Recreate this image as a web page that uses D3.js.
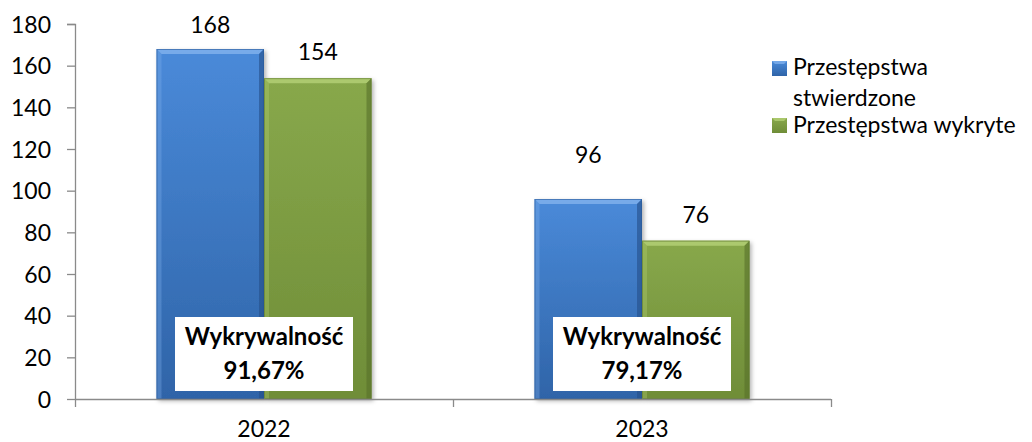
<!DOCTYPE html>
<html><head><meta charset="utf-8">
<script src="https://cdn.jsdelivr.net/npm/d3@7/dist/d3.min.js"></script>
<style>body{margin:0;background:#fff}svg{display:block}</style>
</head><body>
<script>
const categories = ["2022", "2023"];
const seriesNames = ["Przestępstwa stwierdzone", "Przestępstwa wykryte"];
const stwierdzone = [168, 96];
const wykryte = [154, 76];
const wykrywalnosc = ["91,67%", "79,17%"];
const yTicks = [0, 20, 40, 60, 80, 100, 120, 140, 160, 180];

const W = 1032, H = 442;
const svg = d3.select("body").append("svg").attr("width", W).attr("height", H);
const font = "Lato, 'Open Sans', sans-serif";
const fs = 23;
const axisCol = "#8a8a8a";

const x0 = d3.scaleBand().domain(categories).range([75, 831]).paddingInner(0).paddingOuter(0);
const y = d3.scaleLinear().domain([0, 180]).range([399, 24]);
const barW = 107.5;

const defs = svg.append("defs");
const pal = [
  {id: "gB", top: "#4a8ad9", bot: "#2f64a8", light: "#7fb0ec", dark: "#244f88", edge: "#2a5a99"},
  {id: "gG", top: "#88a84b", bot: "#6f8d38", light: "#b3cf74", dark: "#566f2a", edge: "#5f7a30"}
];
pal.forEach(p => {
  const g = defs.append("linearGradient").attr("id", p.id).attr("x1", 0).attr("x2", 0).attr("y1", 0).attr("y2", 1);
  g.append("stop").attr("offset", "0%").attr("stop-color", p.top);
  g.append("stop").attr("offset", "100%").attr("stop-color", p.bot);
});
const f = defs.append("filter").attr("id", "sh").attr("x", "-10%").attr("y", "-10%").attr("width", "130%").attr("height", "130%");
f.append("feDropShadow").attr("dx", 2).attr("dy", 2).attr("stdDeviation", 2).attr("flood-color", "#000").attr("flood-opacity", 0.3);

// axes
const yAxis = d3.axisLeft(y).tickValues(yTicks).tickSize(8).tickPadding(16);
const gy = svg.append("g").attr("transform", "translate(75,0)").call(yAxis);
gy.selectAll("path,line").attr("stroke", axisCol).attr("stroke-width", 1.3);
gy.select(".domain").attr("d", "M-8,24.5H0.5V399.5");
gy.selectAll("text").attr("font-family", font).attr("font-size", fs).attr("fill", "#000").attr("dy", "0.36em");

const bars = [];
categories.forEach((c, i) => {
  const cx = x0(c) + x0.bandwidth() / 2;
  bars.push({c, i, s: 0, v: stwierdzone[i], x: cx - barW});
  bars.push({c, i, s: 1, v: wykryte[i], x: cx});
});

const bevel = 5;
bars.forEach(b => {
  const p = pal[b.s];
  const x = b.x, yt = y(b.v), yb = y(0), w = barW, h = yb - yt;
  const g = svg.append("g");
  g.append("rect").attr("x", x).attr("y", yt).attr("width", w).attr("height", h)
    .attr("fill", `url(#${p.id})`).attr("filter", "url(#sh)");
  g.append("path").attr("d", `M${x},${yt}H${x + w}L${x + w - bevel},${yt + bevel}H${x + bevel}Z`).attr("fill", p.light).attr("opacity", 0.85);
  g.append("path").attr("d", `M${x},${yt}L${x + bevel},${yt + bevel}V${yb}H${x}Z`).attr("fill", p.light).attr("opacity", 0.35);
  g.append("path").attr("d", `M${x + w},${yt}L${x + w - bevel},${yt + bevel}V${yb}H${x + w}Z`).attr("fill", p.dark).attr("opacity", 0.6);
  g.append("rect").attr("x", x + 0.5).attr("y", yt + 0.5).attr("width", w - 1).attr("height", h - 1)
    .attr("fill", "none").attr("stroke", p.edge).attr("stroke-width", 1).attr("opacity", 0.6);
});

// x axis
const xAxisLine = svg.append("g");
xAxisLine.append("line").attr("x1", 75).attr("x2", 831).attr("y1", 399.5).attr("y2", 399.5).attr("stroke", axisCol).attr("stroke-width", 1.3);
[75, 831].concat(categories.slice(1).map(c => x0(c))).forEach(t => {
  xAxisLine.append("line").attr("x1", t + 0.5).attr("x2", t + 0.5).attr("y1", 399).attr("y2", 407).attr("stroke", axisCol).attr("stroke-width", 1.3);
});
categories.forEach(c => {
  svg.append("text").attr("x", x0(c) + x0.bandwidth() / 2).attr("y", 437).attr("text-anchor", "middle")
    .attr("font-family", font).attr("font-size", fs).attr("fill", "#000").text(c);
});

// value labels
const labelLift = {"0-0": 16, "0-1": 18, "1-0": 36, "1-1": 18};
bars.forEach(b => {
  svg.append("text").attr("x", b.x + barW / 2).attr("y", y(b.v) - labelLift[b.i + "-" + b.s])
    .attr("text-anchor", "middle").attr("font-family", font).attr("font-size", fs).attr("fill", "#000").text(b.v);
});

// Wykrywalnosc boxes
categories.forEach((c, i) => {
  const cx = x0(c) + x0.bandwidth() / 2;
  svg.append("rect").attr("x", cx - 89).attr("y", 317).attr("width", 178).attr("height", 74).attr("fill", "#fff");
  svg.append("text").attr("x", cx).attr("y", 345).attr("text-anchor", "middle").attr("font-family", font)
    .attr("font-weight", "bold").attr("font-size", 24).attr("fill", "#000").text("Wykrywalność");
  svg.append("text").attr("x", cx).attr("y", 379).attr("text-anchor", "middle").attr("font-family", font)
    .attr("font-weight", "bold").attr("font-size", 24).attr("fill", "#000").text(wykrywalnosc[i]);
});

// legend
const legendLines = [["Przestępstwa", "stwierdzone"], ["Przestępstwa wykryte"]];
const legY = [61, 118];
const textY = [[75, 106], [133]];
legendLines.forEach((lines, k) => {
  const p = pal[k];
  svg.append("rect").attr("x", 772).attr("y", legY[k]).attr("width", 15).attr("height", 15).attr("fill", `url(#${p.id})`);
  svg.append("path").attr("d", `M772,${legY[k]}h15l-3,3h-9z`).attr("fill", p.light).attr("opacity", 0.8);
  lines.forEach((t, j) => {
    svg.append("text").attr("x", 793).attr("y", textY[k][j]).attr("font-family", font).attr("font-size", fs)
      .attr("fill", "#000").text(t);
  });
});
</script>
</body></html>
